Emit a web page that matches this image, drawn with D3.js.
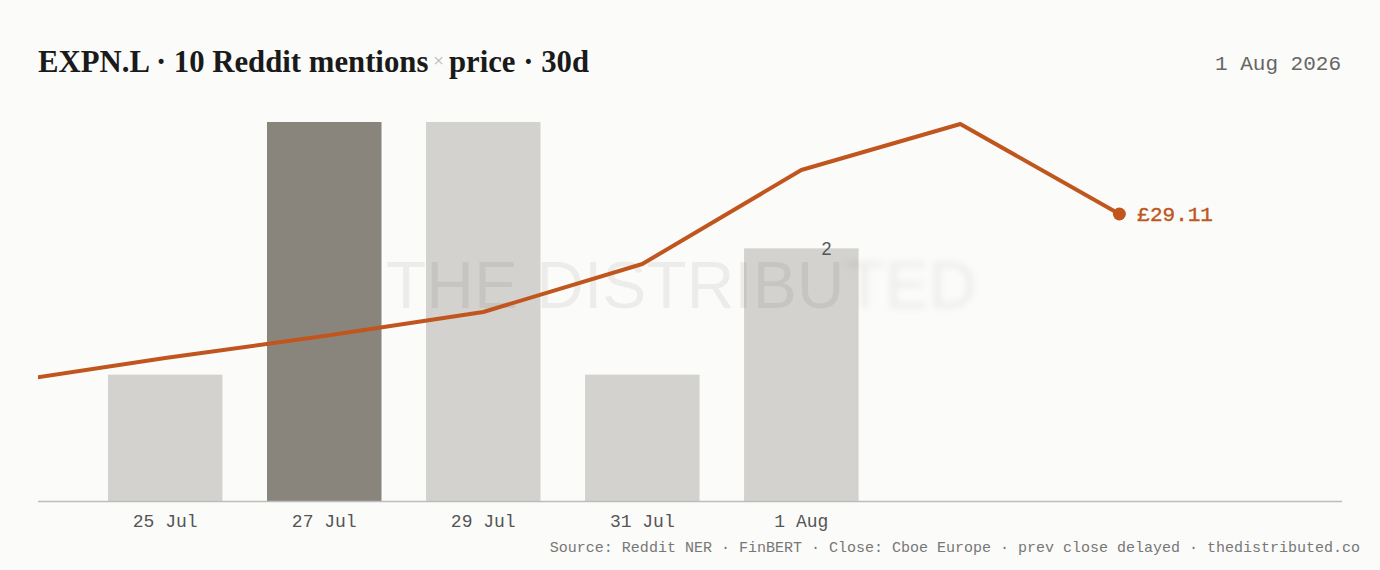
<!DOCTYPE html>
<html>
<head>
  <title>EXPN.L mentions x price</title>
  <script src="https://d3js.org/d3.v7.min.js"></script>
  <style>
    body { margin: 0; background: #fbfbf9; }
  </style>
</head>
<body>
  <svg id="chart" width="1380" height="570"></svg>

  <script>
    // mentions per day (bars)
    const days = ["25 Jul", "27 Jul", "29 Jul", "31 Jul", "1 Aug"];
    const mentions = [1, 3, 3, 1, 2];
    const peakDay = "27 Jul";

    // daily close in GBP, slot index relative to the first bar (slot 0 = 25 Jul)
    const priceSlots = [-1, 0, 1, 2, 3, 4, 5, 6];
    const closes = [28.27, 28.39, 28.50, 28.62, 28.86, 29.33, 29.56, 29.11];

    const title = ["EXPN.L · 10 Reddit mentions", "×", "price · 30d"];
    const dateLabel = "1 Aug 2026";
    const source = "Source: Reddit NER · FinBERT · Close: Cboe Europe · prev close delayed · thedistributed.co";

    const svg = d3.select("#chart");
    const mono = "'Liberation Mono', 'DejaVu Sans Mono', monospace";
    const left = 38, right = 1342, base = 501;

    svg.append("rect").attr("width", 1380).attr("height", 570).attr("fill", "#fbfbf9");

    // title: size it so it spans the same width as the reference
    const t = svg.append("text")
      .attr("x", left).attr("y", 72)
      .attr("font-family", "'Liberation Serif', 'DejaVu Serif', serif")
      .attr("font-size", 40)
      .attr("font-weight", 700)
      .attr("fill", "#1a1a1a");
    t.append("tspan").text(title[0]);
    t.append("tspan").attr("dx", 5).attr("dy", -5).attr("fill", "#b8b8b4").attr("font-weight", 400).attr("font-size", 24).text(title[1]);
    t.append("tspan").attr("dx", 5).attr("dy", 5).text(title[2]);
    const natural = t.node().getComputedTextLength();
    const fs = Math.min(40, 40 * 551 / natural);
    t.attr("font-size", fs);
    t.select("tspan:nth-child(2)").attr("font-size", fs * 0.62);
    t.attr("textLength", 551).attr("lengthAdjust", "spacingAndGlyphs");

    svg.append("text")
      .attr("x", 1341).attr("y", 70)
      .attr("text-anchor", "end")
      .attr("font-family", mono).attr("font-size", 21)
      .attr("fill", "#666")
      .text(dateLabel);

    // scales
    const x = d3.scaleLinear().domain([-0.8, 7.4]).range([left, right]);
    const step = x(1) - x(0);
    const bw = step * 0.72;
    const y = d3.scaleLinear().domain([0, 3]).range([base, 122]);
    const yp = d3.scaleLinear().domain([28.0, 29.6]).range([436, 116]);

    // bars
    svg.append("g").selectAll("rect")
      .data(days)
      .join("rect")
      .attr("x", (d, i) => x(i) - bw / 2)
      .attr("y", (d, i) => y(mentions[i]))
      .attr("width", bw)
      .attr("height", (d, i) => base - y(mentions[i]))
      .attr("fill", d => d === peakDay ? "#8a857c" : "#d3d2ce");

    // value label on the last bar
    const last = days.length - 1;
    svg.append("text")
      .attr("x", x(last) + bw * 0.22)
      .attr("y", y(mentions[last]) + 7)
      .attr("text-anchor", "middle")
      .attr("font-family", "'Liberation Sans', Arial, sans-serif")
      .attr("font-size", 18)
      .attr("fill", "#555")
      .text(mentions[last]);

    // watermark
    const defs = svg.append("defs");
    defs.append("filter").attr("id", "blur")
      .attr("x", "-20%").attr("y", "-40%").attr("width", "140%").attr("height", "180%")
      .append("feGaussianBlur").attr("stdDeviation", 3.5);
    defs.append("clipPath").attr("id", "plot")
      .append("rect").attr("x", left).attr("y", 0).attr("width", right - left).attr("height", 570);

    const wm = svg.append("g")
      .attr("font-family", "'Liberation Sans', Arial, sans-serif")
      .attr("font-size", 66)
      .attr("fill", "#000")
      .attr("fill-opacity", 0.06);
    const wmA = wm.append("text").attr("x", 386).attr("y", 308).text("THE DISTRIBU");
    const wA = wmA.node().getComputedTextLength();
    wm.append("text").attr("x", 386 + wA).attr("y", 308).attr("filter", "url(#blur)").text("TED");

    // baseline
    svg.append("line")
      .attr("x1", left).attr("x2", right)
      .attr("y1", base + 0.5).attr("y2", base + 0.5)
      .attr("stroke", "#bdbdbb").attr("stroke-width", 1.5);

    // x labels
    svg.append("g").selectAll("text")
      .data(days)
      .join("text")
      .attr("x", (d, i) => x(i))
      .attr("y", 527)
      .attr("text-anchor", "middle")
      .attr("font-family", mono).attr("font-size", 18)
      .attr("fill", "#555")
      .text(d => d);

    // price line
    const pts = priceSlots.map((s, i) => [x(s), yp(closes[i])]);
    svg.append("path")
      .datum(pts)
      .attr("clip-path", "url(#plot)")
      .attr("fill", "none")
      .attr("stroke", "#c0561e")
      .attr("stroke-width", 4)
      .attr("stroke-linejoin", "round")
      .attr("d", d3.line());

    const end = pts[pts.length - 1];
    svg.append("circle")
      .attr("cx", end[0]).attr("cy", end[1]).attr("r", 6.5)
      .attr("fill", "#c0561e");
    svg.append("text")
      .attr("x", end[0] + 18).attr("y", end[1] + 7)
      .attr("font-family", mono).attr("font-size", 21)
      .attr("fill", "#c0561e")
      .attr("stroke", "#c0561e").attr("stroke-width", 0.4)
      .text("£" + closes[closes.length - 1].toFixed(2));

    // source
    svg.append("text")
      .attr("x", 1360).attr("y", 552)
      .attr("text-anchor", "end")
      .attr("font-family", mono).attr("font-size", 15)
      .attr("fill", "#777")
      .text(source);
  </script>
</body>
</html>
